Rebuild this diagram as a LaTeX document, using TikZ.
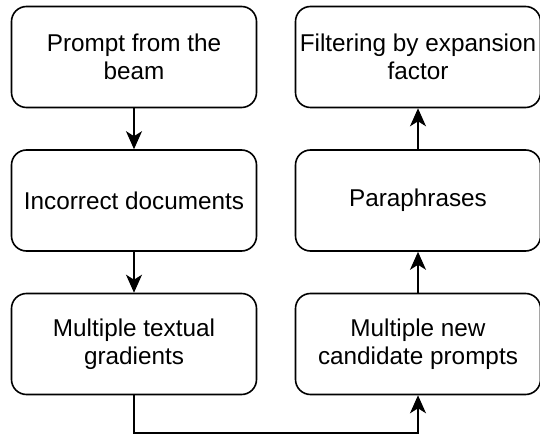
\documentclass[tikz,border=0pt]{standalone}
\usepackage{fontspec}
\setmainfont{Liberation Sans}
\usetikzlibrary{arrows.meta}
\begin{document}
\begin{tikzpicture}[x=1pt,y=-1pt,
  box/.style={draw=black, line width=1.6pt, rounded corners=15pt, fill=white,
    minimum width=245pt, minimum height=101pt, align=center, inner sep=0pt,
    font=\fontsize{24.3pt}{28pt}\selectfont},
  conn/.style={draw=black, line width=1.6pt,
    -{Stealth[length=18pt, width=16pt, inset=5pt]}}]
\useasboundingbox (0,0) rectangle (540,435);
\node[box] (a) at (134,57) {Prompt from the\\beam};
\node[box] (b) at (134,200.5) {Incorrect documents};
\node[box] (c) at (134,344) {Multiple textual\\gradients};
\node[box] (d) at (418,344) {Multiple new\\candidate prompts};
\node[box] (e) at (418,200.5) {Paraphrases};
\node[box] (f) at (418,57) {Filtering by expansion\\factor};
\coordinate (low) at (0,433);
\draw[conn] (a) -- (b);
\draw[conn] (b) -- (c);
\draw[conn, rounded corners=0pt] (c.south) |- (low -| c.south) -| (d.south);
\draw[conn] (d) -- (e);
\draw[conn] (e) -- (f);
\end{tikzpicture}
\end{document}
